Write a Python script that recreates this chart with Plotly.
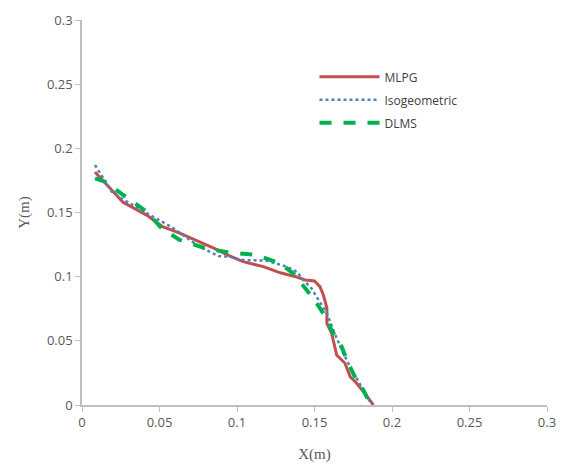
import plotly.graph_objects as go

mlpg_x = [0.0084, 0.0148, 0.0265, 0.0417, 0.052, 0.063, 0.085, 0.0955, 0.104, 0.117, 0.128, 0.1385, 0.144, 0.150, 0.1535, 0.1557, 0.158, 0.158, 0.161, 0.1643, 0.1697, 0.173, 0.1772, 0.1815, 0.188]
mlpg_y = [0.1816, 0.173, 0.158, 0.148, 0.139, 0.134, 0.1223, 0.116, 0.1117, 0.1078, 0.103, 0.0997, 0.0974, 0.0966, 0.0922, 0.0857, 0.0756, 0.0636, 0.0561, 0.039, 0.0325, 0.022, 0.0169, 0.0104, 0.0]

iso_x = [0.0084, 0.0192, 0.0267, 0.0417, 0.0503, 0.059, 0.074, 0.088, 0.0955, 0.102, 0.119, 0.132, 0.1385, 0.1428, 0.148, 0.1525, 0.158, 0.163, 0.1686, 0.174, 0.1815, 0.1858]
iso_y = [0.187, 0.1662, 0.160, 0.1494, 0.1436, 0.1377, 0.1247, 0.116, 0.1156, 0.113, 0.1125, 0.1078, 0.1039, 0.0974, 0.091, 0.0818, 0.0714, 0.0558, 0.0403, 0.0273, 0.0117, 0.0026]

dlms_x = [0.0084, 0.0148, 0.0267, 0.0417, 0.0514, 0.063, 0.080, 0.0955, 0.1127, 0.1277, 0.1363, 0.1417, 0.1492, 0.1557, 0.161, 0.1675, 0.1718, 0.176, 0.1815, 0.1847]
dlms_y = [0.1766, 0.174, 0.1636, 0.1506, 0.1377, 0.1286, 0.122, 0.1187, 0.1169, 0.1104, 0.1026, 0.0948, 0.0831, 0.0714, 0.0584, 0.0454, 0.0325, 0.022, 0.0117, 0.0039]

fig = go.Figure()
fig.add_trace(go.Scatter(x=mlpg_x, y=mlpg_y, mode="lines", name="MLPG", legendgroup="a",
                         line=dict(color="#C0504D", width=3)))
fig.add_trace(go.Scatter(x=iso_x, y=iso_y, mode="lines", name="Isogeometric", legendgroup="b",
                         line=dict(color="#4F81BD", width=2.5, dash="dot")))
fig.add_trace(go.Scatter(x=dlms_x, y=dlms_y, mode="lines", name="DLMS", legendgroup="c",
                         line=dict(color="#00B050", width=4, dash="dash")))

axis_common = dict(range=[0, 0.3], dtick=0.05, showgrid=False, zeroline=False,
                   showline=True, linecolor="#BFBFBF", linewidth=1.5,
                   ticks="outside", ticklen=5, tickcolor="#BFBFBF", automargin=False,
                   tickfont=dict(family="Open Sans", size=13, color="#595959"))

fig.update_layout(
    width=563, height=465,
    margin=dict(l=82, r=16, t=20, b=60),
    paper_bgcolor="white", plot_bgcolor="white",
    showlegend=True,
    legend=dict(x=0.5, y=0.89, xanchor="left", yanchor="top",
                bgcolor="rgba(0,0,0,0)", itemwidth=60,
                font=dict(family="Open Sans", size=12, color="#404040"),
                tracegroupgap=4),
    xaxis=dict(**axis_common,
               title=dict(text="X(m)", font=dict(family="Liberation Serif", size=15, color="#595959"), standoff=18)),
    yaxis=dict(**axis_common,
               title=dict(text="Y(m)", font=dict(family="Liberation Serif", size=15, color="#595959"), standoff=14)),
)

fig.write_html("out.html")
